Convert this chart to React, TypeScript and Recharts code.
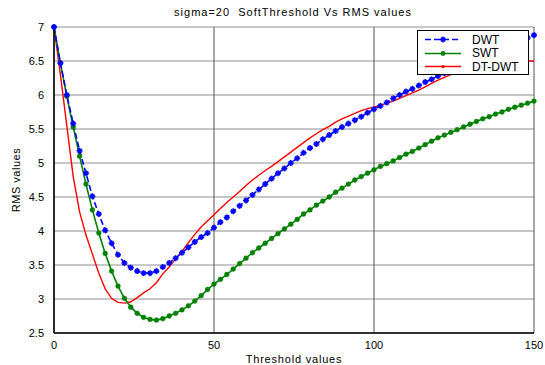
import { LineChart, Line, XAxis, YAxis, CartesianGrid, Label } from 'recharts';

// threshold values (x axis)
const thresholds = [
    0, 2, 4, 6, 8, 10, 12, 14, 16, 18, 20, 22, 24, 26, 28, 30, 32, 34, 36, 38,
    40, 42, 44, 46, 48, 50, 52, 54, 56, 58, 60, 62, 64, 66, 68, 70, 72, 74, 76, 78,
    80, 82, 84, 86, 88, 90, 92, 94, 96, 98, 100, 102, 104, 106, 108, 110, 112, 114, 116, 118,
    120, 122, 124, 126, 128, 130, 132, 134, 136, 138, 140, 142, 144, 146, 148, 150,
];

const dwt = [
    7.0, 6.47, 6.0, 5.58, 5.18, 4.85, 4.51, 4.25, 4.01, 3.82, 3.65, 3.53, 3.46, 3.41, 3.38, 3.38, 3.41, 3.47, 3.53, 3.6,
    3.68, 3.76, 3.84, 3.91, 3.97, 4.05, 4.13, 4.2, 4.29, 4.37, 4.45, 4.53, 4.61, 4.69, 4.77, 4.85, 4.92, 5.0, 5.07, 5.15,
    5.22, 5.28, 5.35, 5.41, 5.47, 5.53, 5.58, 5.63, 5.68, 5.74, 5.79, 5.84, 5.89, 5.95, 6.0, 6.05, 6.09, 6.14, 6.19, 6.23,
    6.28, 6.32, 6.36, 6.4, 6.44, 6.48, 6.52, 6.56, 6.6, 6.64, 6.68, 6.72, 6.76, 6.8, 6.84, 6.88,
];

const swt = [
    7.0, 6.47, 5.98, 5.53, 5.1, 4.69, 4.31, 3.97, 3.67, 3.41, 3.19, 3.01, 2.88, 2.79, 2.73, 2.7, 2.69, 2.71, 2.75, 2.79,
    2.84, 2.9, 2.97, 3.05, 3.14, 3.22, 3.29, 3.36, 3.44, 3.52, 3.6, 3.68, 3.75, 3.82, 3.89, 3.96, 4.03, 4.1, 4.17, 4.25,
    4.31, 4.38, 4.44, 4.5, 4.57, 4.63, 4.69, 4.75, 4.8, 4.85, 4.9, 4.95, 4.99, 5.03, 5.08, 5.13, 5.17, 5.22, 5.27, 5.32,
    5.37, 5.41, 5.45, 5.49, 5.53, 5.57, 5.61, 5.65, 5.68, 5.72, 5.75, 5.79, 5.82, 5.85, 5.88, 5.91,
];

const dtdwt = [
    7.0, 6.3, 5.55, 4.8, 4.28, 3.94, 3.66, 3.38, 3.15, 3.01, 2.95, 2.94, 2.96, 3.02, 3.09, 3.15, 3.24, 3.37, 3.47, 3.59,
    3.7, 3.83, 3.95, 4.06, 4.15, 4.24, 4.33, 4.42, 4.5, 4.58, 4.67, 4.75, 4.82, 4.89, 4.95, 5.02, 5.09, 5.16, 5.23, 5.3,
    5.37, 5.43, 5.49, 5.54, 5.6, 5.65, 5.69, 5.73, 5.77, 5.8, 5.82, 5.85, 5.88, 5.91, 5.95, 5.99, 6.03, 6.07, 6.12, 6.17,
    6.22, 6.26, 6.3, 6.34, 6.38, 6.41, 6.43, 6.45, 6.46, 6.47, 6.48, 6.48, 6.49, 6.49, 6.5, 6.5,
];

const xTicks = [0, 50, 100, 150];
const yTicks = [2.5, 3, 3.5, 4, 4.5, 5, 5.5, 6, 6.5, 7];

const BLUE = '#0000ff';
const GREEN = '#008000';
const RED = '#ff0000';
const FONT = '"Liberation Sans", Arial, sans-serif';

const data = thresholds.map((t, i) => ({ t, dwt: dwt[i], swt: swt[i], dtdwt: dtdwt[i] }));

const StarDot = (props: any) => {
    const { cx, cy, index } = props;
    if (cx == null || cy == null) return null;
    const r = 3;
    return (
        <g key={`s-${index}`} stroke={BLUE} strokeWidth={1.6}>
            <line x1={cx - r} x2={cx + r} y1={cy} y2={cy} />
            <line x1={cx} x2={cx} y1={cy - r} y2={cy + r} />
            <line x1={cx - 2} x2={cx + 2} y1={cy - 2} y2={cy + 2} />
            <line x1={cx - 2} x2={cx + 2} y1={cy + 2} y2={cy - 2} />
        </g>
    );
};

const legendItems = [
    { name: 'DWT', color: BLUE, dash: '6 3', marker: 'star' },
    { name: 'SWT', color: GREEN, dash: undefined, marker: 'circle' },
    { name: 'DT-DWT', color: RED, dash: undefined, marker: 'dot' },
];

export default function App() {
    const tick = { fontSize: 11, fill: '#000', fontFamily: FONT };
    return (
        <div style={{ position: 'fixed', left: 0, top: 0, width: 545, height: 365, background: '#fff', fontFamily: FONT }}>
            <div style={{ position: 'absolute', left: 0, width: 586, top: 6, textAlign: 'center', fontSize: 11, letterSpacing: 1, color: '#000', whiteSpace: 'pre' }}>
                {'sigma=20  SoftThreshold Vs RMS values'}
            </div>
            <LineChart width={545} height={365} data={data} margin={{ top: 27, right: 11, left: 24, bottom: 12 }}>
                <CartesianGrid horizontal={true} vertical={false} stroke="#b4b4b4" strokeWidth={1.5} />
                <CartesianGrid horizontal={false} vertical={true} stroke="#555" strokeWidth={1} />
                <XAxis
                    dataKey="t" type="number" domain={[0, 150]} ticks={xTicks}
                    tick={tick} tickLine={false} axisLine={{ stroke: '#000', strokeWidth: 1.5 }}
                    height={20} tickMargin={2} interval={0}
                >
                    <Label value="Threshold values" position="insideBottom" offset={-10} style={{ fontSize: 11, letterSpacing: 0.8, fill: '#000', fontFamily: FONT }} />
                </XAxis>
                <XAxis xAxisId="top" orientation="top" dataKey="t" type="number" domain={[0, 150]} ticks={xTicks}
                    tick={false} tickLine={false} height={0} axisLine={{ stroke: '#000', strokeWidth: 1.5 }} />
                <YAxis
                    type="number" domain={[2.5, 7]} ticks={yTicks} interval={0}
                    tick={tick} tickLine={false} axisLine={{ stroke: '#000', strokeWidth: 1.5 }}
                    width={30} tickMargin={4}
                >
                    <Label value="RMS values" angle={-90} position="insideLeft" offset={-8} style={{ fontSize: 11, letterSpacing: 0.5, fill: '#000', fontFamily: FONT, textAnchor: 'middle' }} />
                </YAxis>
                <YAxis yAxisId="right" orientation="right" type="number" domain={[2.5, 7]} ticks={yTicks}
                    tick={false} tickLine={false} width={0} axisLine={{ stroke: '#000', strokeWidth: 1.5 }} />
                <Line dataKey="dtdwt" stroke={RED} strokeWidth={1.4} dot={false} isAnimationActive={false} type="linear" />
                <Line dataKey="swt" stroke={GREEN} strokeWidth={1.6} isAnimationActive={false} type="linear"
                    dot={{ r: 2.4, fill: GREEN, stroke: GREEN, strokeWidth: 0.5 }} />
                <Line dataKey="dwt" stroke={BLUE} strokeWidth={1.6} strokeDasharray="6 3" isAnimationActive={false} type="linear"
                    dot={StarDot} />
            </LineChart>
            <div style={{ position: 'absolute', left: 417, top: 30, width: 110, height: 43, border: '1px solid #000', background: '#fff' }}>
                {legendItems.map((it, i) => (
                    <div key={it.name} style={{ position: 'absolute', left: 0, top: 2 + i * 13.5, height: 13, display: 'flex', alignItems: 'center' }}>
                        <svg width={50} height={13}>
                            <line x1={7} x2={43} y1={6.5} y2={6.5} stroke={it.color} strokeWidth={1.6} strokeDasharray={it.dash} />
                            {it.marker === 'star' && (
                                <g stroke={BLUE} strokeWidth={1.6}>
                                    <line x1={22} x2={28} y1={6.5} y2={6.5} />
                                    <line x1={25} x2={25} y1={3.5} y2={9.5} />
                                    <line x1={23} x2={27} y1={4.5} y2={8.5} />
                                    <line x1={23} x2={27} y1={8.5} y2={4.5} />
                                </g>
                            )}
                            {it.marker === 'circle' && <circle cx={25} cy={6.5} r={2.4} fill={GREEN} />}
                            {it.marker === 'dot' && <circle cx={25} cy={6.5} r={1.6} fill={RED} />}
                        </svg>
                        <span style={{ fontSize: 12, color: '#000', marginLeft: 4 }}>{it.name}</span>
                    </div>
                ))}
            </div>
        </div>
    );
}
